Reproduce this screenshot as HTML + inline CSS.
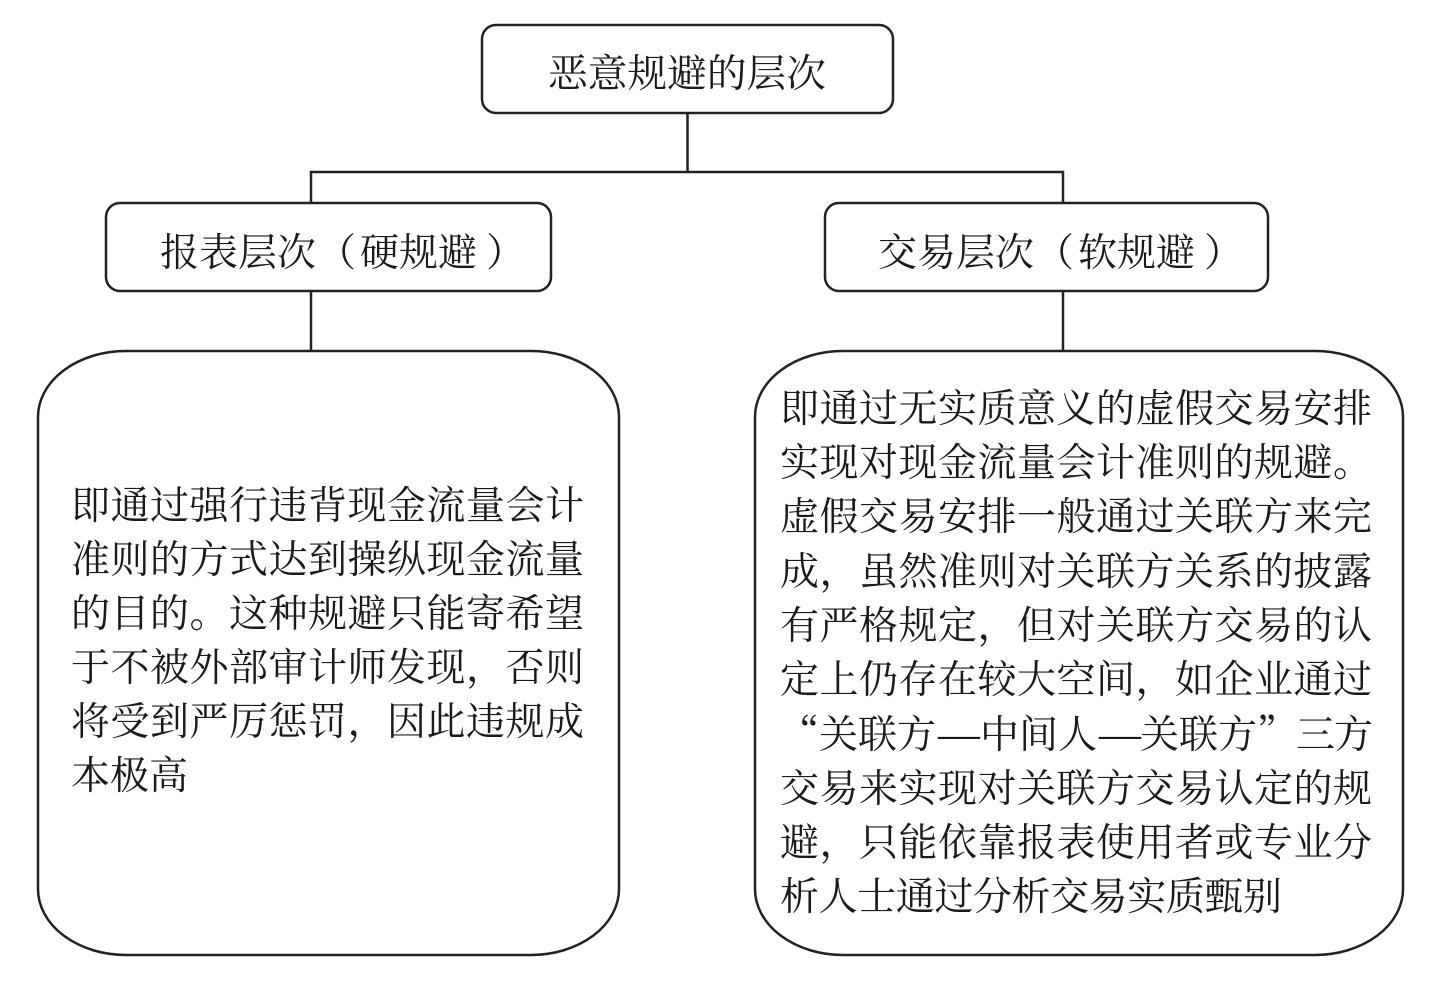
<!DOCTYPE html>
<html><head><meta charset="utf-8">
<style>
html,body{margin:0;padding:0;background:#fff;}
svg{display:block;}
text{font-family:"Noto Serif CJK SC","Liberation Serif",serif;font-size:39px;fill:#1a1a1a;}
text.d{font-family:"Liberation Serif",serif;font-size:42px;}
</style></head><body>
<svg width="1433" height="992" viewBox="0 0 1433 992" xmlns="http://www.w3.org/2000/svg">
<g fill="none" stroke="#222" stroke-width="2.5">
<rect x="482" y="25" width="411" height="88" rx="14"/>
<rect x="106" y="203" width="445" height="88" rx="14"/>
<rect x="825" y="203" width="443" height="88" rx="14"/>
<rect x="38" y="351" width="581" height="604" rx="88" ry="66"/>
<rect x="755" y="351" width="648" height="604" rx="88" ry="66"/>
<path d="M687.500 113V172M311 203V172H1063V203M311 291V351M1063 291V351"/>
</g>
<text x="548" y="87" textLength="278" lengthAdjust="spacingAndGlyphs">恶意规避的层次</text>
<text x="160" y="266" textLength="156" lengthAdjust="spacing">报表层次</text>
<text x="317" y="266">（</text>
<text x="360" y="266" textLength="117" lengthAdjust="spacing">硬规避</text>
<text x="486" y="266">）</text>
<text x="878" y="266" textLength="156" lengthAdjust="spacing">交易层次</text>
<text x="1035" y="266">（</text>
<text x="1078" y="266" textLength="117" lengthAdjust="spacing">软规避</text>
<text x="1204" y="266">）</text>
<g>
<text x="71" y="519" textLength="513" lengthAdjust="spacing">即通过强行违背现金流量会计</text>
<text x="71" y="573" textLength="513" lengthAdjust="spacing">准则的方式达到操纵现金流量</text>
<text x="71" y="627" textLength="513" lengthAdjust="spacing">的目的。这种规避只能寄希望</text>
<text x="71" y="681" textLength="513" lengthAdjust="spacing">于不被外部审计师发现，否则</text>
<text x="71" y="735" textLength="513" lengthAdjust="spacing">将受到严厉惩罚，因此违规成</text>
<text x="71" y="789" textLength="117" lengthAdjust="spacing">本极高</text>
</g>
<g>
<text x="780" y="422" textLength="592" lengthAdjust="spacing">即通过无实质意义的虚假交易安排</text>
<text x="780" y="476" textLength="592" lengthAdjust="spacing">实现对现金流量会计准则的规避。</text>
<text x="780" y="530" textLength="592" lengthAdjust="spacing">虚假交易安排一般通过关联方来完</text>
<text x="780" y="585" textLength="592" lengthAdjust="spacing">成，虽然准则对关联方关系的披露</text>
<text x="780" y="639" textLength="592" lengthAdjust="spacing">有严格规定，但对关联方交易的认</text>
<text x="780" y="693" textLength="592" lengthAdjust="spacing">定上仍存在较大空间，如企业通过</text>
<text x="780 819 858 897" y="748">“关联方</text>
<text class="d" x="938" y="748">—</text>
<text x="980 1019 1058" y="748">中间人</text>
<text class="d" x="1099" y="748">—</text>
<text x="1140 1179 1218 1257 1296 1334" y="748">关联方”三方</text>
<text x="780" y="802" textLength="592" lengthAdjust="spacing">交易来实现对关联方交易认定的规</text>
<text x="780" y="856" textLength="592" lengthAdjust="spacing">避，只能依靠报表使用者或专业分</text>
<text x="780" y="910" textLength="502" lengthAdjust="spacing">析人士通过分析交易实质甄别</text>
</g>
</svg>
</body></html>
